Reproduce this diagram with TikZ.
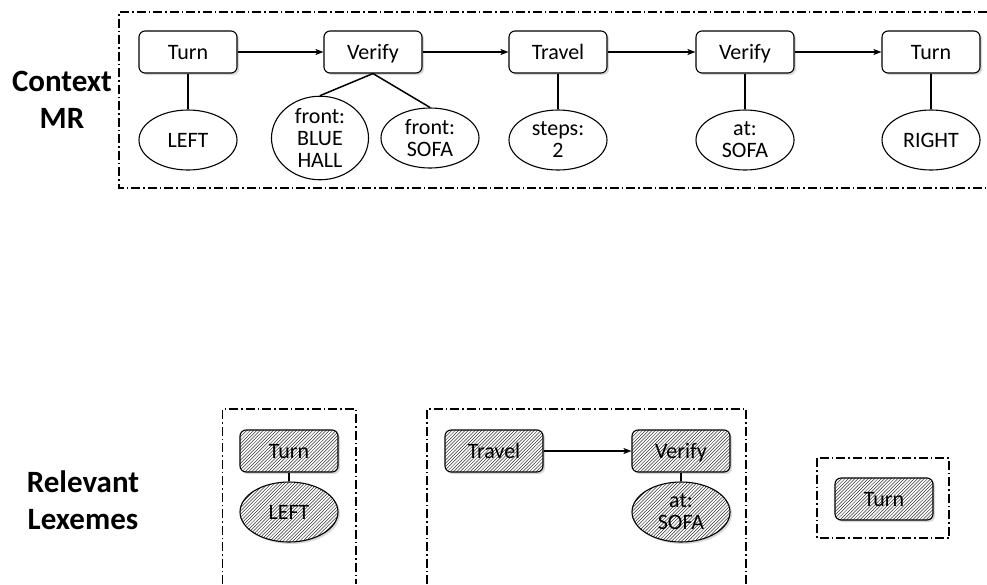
\documentclass[tikz,border=0pt]{standalone}
\usepackage{fontspec}
\setmainfont{Carlito}
\usetikzlibrary{arrows.meta,shapes.geometric,shadows}

\tikzset{
  every node/.style={font=\fontsize{22}{22}\selectfont},
  action/.style={draw, line width=1.1pt, rounded corners=6pt, fill=white,
    minimum width=98pt, minimum height=42pt, inner sep=0pt,
    text height=16pt, text depth=2pt,
    drop shadow={shadow xshift=2pt, shadow yshift=-2pt, opacity=0.3}},
  arg/.style={draw, line width=1.1pt, ellipse, fill=white,
    minimum width=98pt, minimum height=60pt, inner sep=0pt, align=center},
  % diagonal hatching drawn as real lines inside the shape
  hatched/.style={path picture={
    \foreach \k in {-102.3,-99,...,102}
      \draw[line width=0.5pt, black!80]
        ([shift={(\k-55,55)}]path picture bounding box.center)
        -- ++(110,-110);}},
  lexbox/.style={action, hatched},
  lexarg/.style={arg, hatched,
    drop shadow={shadow xshift=2pt, shadow yshift=-2pt, opacity=0.3}},
  frame/.style={line width=1.2pt, dash pattern=on 9pt off 3pt on 1.5pt off 3pt},
  link/.style={line width=1.5pt},
  flow/.style={line width=1.5pt, -{Stealth[length=8pt,width=6pt,inset=2pt]}},
  heading/.style={font=\fontsize{31}{37}\selectfont\bfseries, align=center},
}

\begin{document}
\begin{tikzpicture}[x=1pt, y=-1pt]
\useasboundingbox (0,0) rectangle (987,584);

% ---- context meaning representation ----
\draw[frame] (987,12) -- (119,12) -- (119,188) -- (987,188);
\node[heading] (ctx) at (62,100) {Context\\MR};

\node[action] (t1) at (188,52) {Turn};
\node[action] (v1) at (373,52) {Verify};
\node[action] (tr) at (558,52) {Travel};
\node[action] (v2) at (745,52) {Verify};
\node[action] (t2) at (931,52) {Turn};

\node[arg] (left) at (188,140) {LEFT};
\node[arg, minimum width=97pt] (blue) at (320,138) {front:\\BLUE\\HALL};
\node[arg] (sofa1) at (430,138) {front:\\SOFA};
\node[arg] (steps) at (558,140) {steps:\\2};
\node[arg] (sofa2) at (745,140) {at:\\SOFA};
\node[arg] (right) at (931,140) {RIGHT};

\draw[flow] (t1) -- (v1);
\draw[flow] (v1) -- (tr);
\draw[flow] (tr) -- (v2);
\draw[flow] (v2) -- (t2);

\draw[link] (t1.south) -- (left.north);
\draw[link] (v1.south) -- (blue.north);
\draw[link] (v1.south) -- (sofa1.north);
\draw[link] (tr.south) -- (steps.north);
\draw[link] (v2.south) -- (sofa2.north);
\draw[link] (t2.south) -- (right.north);

% ---- relevant lexemes ----
\node[heading] (lex) at (83,500) {Relevant\\Lexemes};

\draw[frame] (222.5,584) -- (222.5,409) -- (356,409) -- (356,584);
\draw[frame] (427,584) -- (427,409) -- (746,409) -- (746,584);
\draw[frame] (817,458) rectangle (949,538);

\node[lexbox] (lt) at (289,451) {Turn};
\node[lexarg] (ll) at (289,512) {LEFT};
\draw[link] (lt.south) -- (ll.north);

\node[lexbox] (ltr) at (494,451) {Travel};
\node[lexbox] (lv) at (681,451) {Verify};
\node[lexarg] (ls) at (681,512) {at:\\SOFA};
\draw[flow] (ltr) -- (lv);
\draw[link] (lv.south) -- (ls.north);

\node[lexbox] (lt2) at (884,499) {Turn};
\end{tikzpicture}
\end{document}
